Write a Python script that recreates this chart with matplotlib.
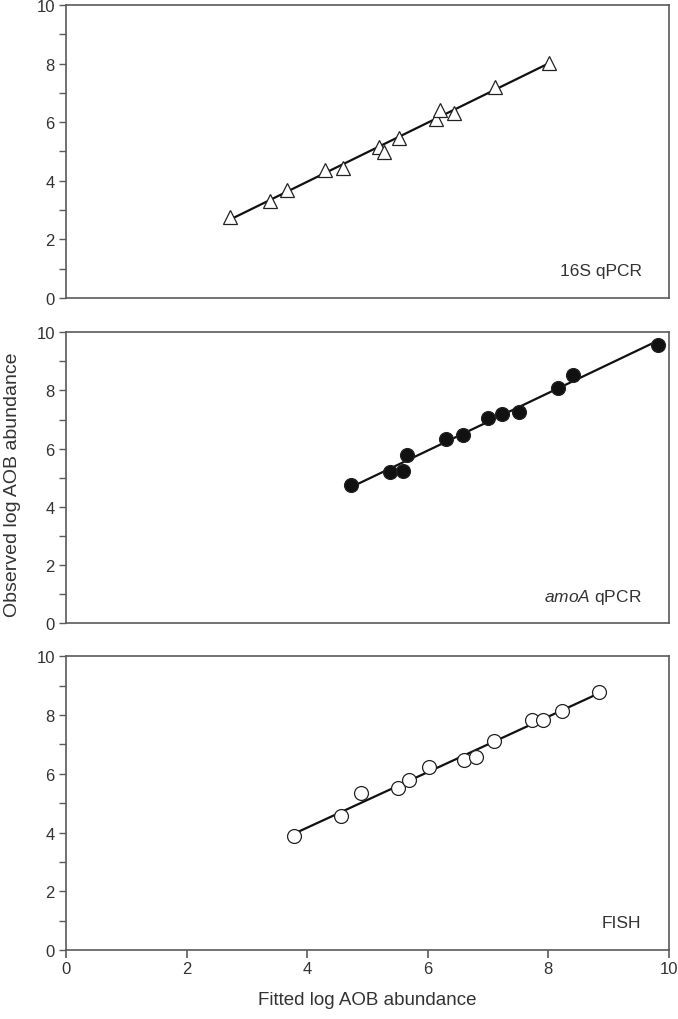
import numpy as np
import matplotlib
matplotlib.use("Agg")
import matplotlib.pyplot as plt
from matplotlib.ticker import MultipleLocator

plt.rcParams['font.family'] = ['Liberation Sans', 'DejaVu Sans']
plt.rcParams['mathtext.fontset'] = 'custom'
plt.rcParams['mathtext.rm'] = 'Liberation Sans'
plt.rcParams['mathtext.it'] = 'Liberation Sans:italic'

# 16S qPCR (open triangles)
fit_16s = [2.72, 3.39, 3.66, 4.30, 4.59, 5.20, 5.27, 5.52, 6.14, 6.20, 6.43, 7.12, 8.02]
obs_16s = [2.75, 3.32, 3.69, 4.36, 4.45, 5.14, 4.97, 5.47, 6.11, 6.43, 6.31, 7.20, 8.02]

# amoA qPCR (filled circles)
fit_amoa = [4.73, 5.37, 5.59, 5.66, 6.30, 6.58, 7.01, 7.23, 7.51, 8.16, 8.42, 9.82]
obs_amoa = [4.75, 5.18, 5.23, 5.79, 6.33, 6.46, 7.05, 7.19, 7.27, 8.09, 8.54, 9.57]

# FISH (open circles)
fit_fish = [3.79, 4.57, 4.90, 5.51, 5.69, 6.02, 6.61, 6.80, 7.10, 7.74, 7.92, 8.23, 8.85]
obs_fish = [3.87, 4.58, 5.35, 5.53, 5.80, 6.24, 6.46, 6.58, 7.13, 7.83, 7.83, 8.13, 8.79]

paineis = [
    (fit_16s, obs_16s, "16S qPCR", "^", "white"),
    (fit_amoa, obs_amoa, r"$\mathit{amoA}$ qPCR", "o", "#111111"),
    (fit_fish, obs_fish, "FISH", "o", "white"),
]

posicoes = [
    [0.0973, 0.7069, 0.889, 0.2873],
    [0.0973, 0.3882, 0.889, 0.2850],
    [0.0973, 0.0676, 0.889, 0.2880],
]

fig = plt.figure(figsize=(6.78, 10.2), dpi=100)
cor_eixo = "#5a5a5a"
cor_texto = "#333333"

for i, (fx, oy, rotulo, marcador, preench) in enumerate(paineis):
    ax = fig.add_axes(posicoes[i])
    fx = np.array(fx)
    oy = np.array(oy)

    # linha de ajuste
    a, b = np.polyfit(fx, oy, 1)
    xs = np.array([fx.min(), fx.max()])
    ax.plot(xs, a * xs + b, color="#111111", lw=1.6, zorder=2)

    ms = 9.5 if marcador == "^" else 10
    ax.plot(fx, oy, linestyle="none", marker=marcador, markersize=ms,
            markerfacecolor=preench, markeredgecolor="#222222",
            markeredgewidth=0.9, zorder=3)

    ax.set_xlim(0, 10)
    ax.set_ylim(0, 10)
    ax.yaxis.set_major_locator(MultipleLocator(2))
    ax.yaxis.set_minor_locator(MultipleLocator(1))
    ax.xaxis.set_major_locator(MultipleLocator(2))

    for s in ax.spines.values():
        s.set_color(cor_eixo)
        s.set_linewidth(1.2)

    ax.tick_params(axis="y", which="both", direction="out", length=5,
                   width=1.0, color=cor_eixo, labelsize=12,
                   labelcolor=cor_texto, pad=3)
    if i == 2:
        ax.tick_params(axis="x", which="major", direction="out", length=6,
                       width=1.2, color=cor_eixo, labelsize=12,
                       labelcolor=cor_texto, pad=2)
        ax.set_xlabel("Fitted log AOB abundance", fontsize=13.5,
                      color=cor_texto, labelpad=11)
    else:
        ax.tick_params(axis="x", which="both", length=0, labelbottom=False)

    ax.text(0.955, 0.093, rotulo, transform=ax.transAxes, ha="right",
            va="center", fontsize=12.5, color=cor_texto)

fig.text(0.018, 0.525, "Observed log AOB abundance", rotation=90,
         ha="center", va="center", fontsize=14, color=cor_texto)

plt.savefig("out.png", dpi=100)
plt.close()
